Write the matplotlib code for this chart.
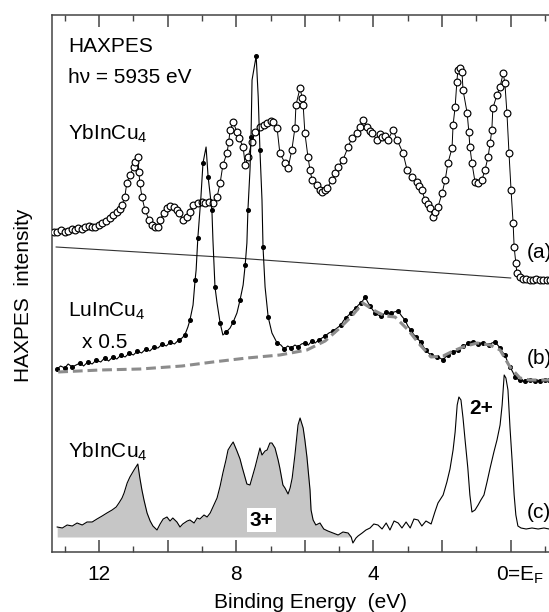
import numpy as np
import matplotlib
matplotlib.use("Agg")
import matplotlib.pyplot as plt

plt.rcParams["font.family"] = ["Liberation Sans", "DejaVu Sans"]
plt.rcParams["mathtext.default"] = "regular"

# ----------------------------------------------------------------------
# (a) YbInCu4 HAXPES spectrum (open circles)
E_a = [13.30, 13.22, 13.10, 13.00, 12.90, 12.80, 12.70, 12.60, 12.50, 12.41,
       12.30, 12.20, 12.12, 12.00, 11.91, 11.80, 11.68, 11.58, 11.48, 11.40,
       11.33, 11.25, 11.19, 11.10, 10.99, 10.96, 10.87, 10.84, 10.81, 10.75,
       10.66, 10.54, 10.46, 10.36, 10.28, 10.23, 10.11, 10.02, 9.92, 9.81,
       9.74, 9.67, 9.56, 9.45, 9.36, 9.26, 9.12, 9.00, 8.91, 8.80,
       8.68, 8.56, 8.47, 8.39, 8.27, 8.22, 8.18, 8.09, 7.98, 7.92,
       7.80, 7.74, 7.65, 7.55, 7.45, 7.31, 7.20, 7.10, 7.00, 6.93,
       6.81, 6.73, 6.58, 6.49, 6.38, 6.29, 6.26, 6.14, 6.08, 6.05,
       6.00, 5.91, 5.85, 5.79, 5.64, 5.57, 5.50, 5.42, 5.35, 5.21,
       5.12, 5.03, 4.89, 4.74, 4.63, 4.48, 4.40, 4.31, 4.19, 4.10,
       4.04, 3.90, 3.82, 3.75, 3.65, 3.58, 3.43, 3.31, 3.14, 3.02,
       2.88, 2.73, 2.66, 2.59, 2.50, 2.42, 2.35, 2.26, 2.20, 2.12,
       2.00, 1.91, 1.83, 1.71, 1.68, 1.62, 1.57, 1.54, 1.47, 1.42,
       1.39, 1.27, 1.22, 1.19, 1.13, 1.04, 0.95, 0.84, 0.75, 0.66,
       0.60, 0.55, 0.52, 0.40, 0.31, 0.22, 0.17, 0.11, 0.05, -0.01,
       -0.07, -0.10, -0.15, -0.18, -0.27, -0.35, -0.45, -0.55, -0.65, -0.75,
       -0.85, -0.95, -1.05, -1.15]
I_a = [320, 320, 322, 320, 321, 323, 322, 324, 323, 325,
       326, 325, 325, 327, 329, 331, 334, 337, 340, 343,
       347, 355, 369, 377, 385, 390, 395, 380, 369, 355,
       342, 332, 327, 325, 325, 332, 339, 344, 346, 345,
       342, 339, 332, 335, 340, 347, 349, 350, 349, 350,
       349, 355, 369, 387, 399, 410, 422, 430, 420, 414,
       405, 387, 395, 410, 420, 425, 427, 429, 431, 430,
       424, 399, 389, 384, 402, 424, 447, 464, 454, 447,
       419, 395, 382, 372, 367, 362, 360, 362, 364, 372,
       379, 385, 392, 405, 414, 419, 425, 432, 425, 421,
       419, 412, 418, 415, 416, 412, 422, 412, 399, 382,
       375, 370, 366, 362, 352, 348, 344, 335, 340, 345,
       359, 372, 389, 404, 427, 445, 470, 482, 484, 480,
       462, 439, 420, 405, 389, 370, 369, 372, 382, 395,
       409, 422, 444, 457, 465, 479, 469, 439, 399, 362,
       329, 305, 289, 279, 275, 273, 273, 272, 272, 273,
       272, 272, 272, 272]

# background line under (a)
E_abg = [13.25, 8.0, 4.0, 0.0]
I_abg = [305, 294, 284, 274]

# ----------------------------------------------------------------------
# (b) LuInCu4 x 0.5 (small dots) and its gray dashed curve
E_b = [13.22, 13.12, 13.00, 12.90, 12.78, 12.67, 12.55, 12.45, 12.33, 12.20,
       12.08, 11.95, 11.84, 11.72, 11.60, 11.48, 11.36, 11.24, 11.12, 11.00,
       10.88, 10.76, 10.64, 10.52, 10.40, 10.28, 10.16, 10.04, 9.92, 9.80,
       9.68, 9.58, 9.50, 9.41, 9.35, 9.26, 9.20, 9.17, 9.12, 9.03,
       8.97, 8.88, 8.82, 8.76, 8.71, 8.68, 8.62, 8.56, 8.47, 8.39,
       8.29, 8.18, 8.09, 7.98, 7.89, 7.80, 7.74, 7.69, 7.66, 7.60,
       7.57, 7.54, 7.42, 7.36, 7.31, 7.25, 7.22, 7.16, 7.07, 6.96,
       6.81, 6.70, 6.60, 6.50, 6.40, 6.29, 6.20, 6.10, 6.00, 5.90,
       5.80, 5.70, 5.60, 5.50, 5.41, 5.30, 5.18, 5.06, 4.95, 4.88,
       4.81, 4.72, 4.65, 4.58, 4.51, 4.44, 4.36, 4.30, 4.24, 4.17,
       4.10, 4.02, 3.95, 3.87, 3.78, 3.70, 3.63, 3.56, 3.49, 3.40,
       3.28, 3.18, 3.08, 3.00, 2.91, 2.84, 2.76, 2.68, 2.61, 2.54,
       2.47, 2.40, 2.32, 2.24, 2.15, 2.06, 1.97, 1.90, 1.83, 1.75,
       1.68, 1.61, 1.54, 1.46, 1.39, 1.31, 1.24, 1.17, 1.10, 1.03,
       0.95, 0.88, 0.81, 0.72, 0.63, 0.55, 0.46, 0.38, 0.31, 0.24,
       0.17, 0.10, 0.02, -0.06, -0.13, -0.20, -0.27, -0.35, -0.42, -0.50,
       -0.56, -0.64, -0.71, -0.78, -0.85, -0.92, -1.00, -1.06, -1.12]
I_b = [183, 186, 184, 188, 185, 187, 189, 186, 190, 188,
       192, 190, 194, 191, 195, 193, 197, 195, 199, 197,
       201, 199, 203, 201, 205, 204, 208, 206, 210, 208,
       212, 214, 217, 225, 232, 247, 272, 282, 314, 355,
       389, 405, 375, 357, 342, 312, 265, 249, 229, 217,
       220, 224, 230, 239, 252, 267, 287, 309, 342, 382,
       415, 472, 496, 455, 402, 352, 305, 265, 235, 219,
       209, 207, 203, 206, 204, 207, 205, 208, 209, 207,
       211, 209, 212, 214, 216, 219, 221, 224, 227, 231,
       234, 237, 239, 242, 244, 247, 249, 252, 255, 250,
       246, 242, 239, 237, 236, 238, 240, 238, 239, 240,
       241, 236, 232, 226, 222, 218, 215, 212, 210, 205,
       202, 199, 197, 196, 195, 194, 192, 195, 197, 199,
       200, 201, 202, 204, 206, 207, 209, 210, 210, 209,
       208, 209, 209, 208, 207, 209, 210, 207, 204, 200,
       197, 191, 185, 180, 175, 173, 172, 171, 171, 172,
       172, 171, 171, 172, 171, 172, 172, 171, 172]

E_bfit = [13.19, 11.97, 10.80, 9.58, 8.68, 7.69, 6.73, 5.94, 5.41, 4.95,
          4.63, 4.31, 3.95, 3.66, 3.37, 2.99, 2.64, 2.32, 1.97, 1.68,
          1.39, 0.98, 0.60, 0.31, 0.02, -0.27, -0.56, -1.12]
I_bfit = [180, 182, 183, 186, 190, 194, 197, 202, 211, 225,
          236, 249, 241, 236, 235, 222, 207, 195, 196, 201,
          205, 209, 207, 202, 185, 174, 172, 172]

# ----------------------------------------------------------------------
# (c) YbInCu4 after subtraction (3+ part shaded)
E_c = [13.22, 13.07, 12.93, 12.78, 12.64, 12.49, 12.35, 12.20, 12.06, 11.91,
       11.77, 11.62, 11.50, 11.42, 11.33, 11.27, 11.18, 11.10, 10.98, 10.87,
       10.81, 10.75, 10.69, 10.60, 10.51, 10.43, 10.31, 10.22, 10.13, 10.02,
       9.93, 9.85, 9.73, 9.64, 9.56, 9.43, 9.35, 9.23, 9.14, 9.06,
       8.94, 8.85, 8.76, 8.68, 8.56, 8.47, 8.39, 8.30, 8.24, 8.15,
       8.09, 8.04, 7.98, 7.89, 7.83, 7.74, 7.69, 7.60, 7.51, 7.45,
       7.36, 7.31, 7.25, 7.16, 7.10, 7.02, 6.96, 6.87, 6.78, 6.73,
       6.64, 6.58, 6.49, 6.43, 6.37, 6.29, 6.20, 6.14, 6.05, 6.00,
       5.94, 5.85, 5.82, 5.76, 5.68, 5.56, 5.45, 5.33, 5.18, 5.03,
       4.89, 4.74, 4.65, 4.60, 4.51, 4.45, 4.33, 4.22, 4.10, 3.99,
       3.87, 3.75, 3.63, 3.52, 3.40, 3.28, 3.17, 3.05, 2.93, 2.82,
       2.70, 2.59, 2.47, 2.32, 2.21, 2.12, 1.97, 1.86, 1.77, 1.68,
       1.62, 1.56, 1.51, 1.45, 1.39, 1.33, 1.25, 1.19, 1.13, 1.04,
       0.95, 0.87, 0.78, 0.69, 0.60, 0.49, 0.40, 0.31, 0.25, 0.19,
       0.14, 0.08, 0.02, -0.04, -0.10, -0.15, -0.21, -0.30, -0.45, -0.62,
       -0.80, -0.97, -1.12]
I_c = [25, 24, 27, 26, 29, 27, 30, 30, 33, 36,
       39, 42, 45, 49, 54, 59, 69, 75, 82, 88,
       74, 62, 52, 39, 31, 26, 22, 28, 33, 35,
       31, 34, 30, 25, 28, 31, 32, 29, 34, 33,
       37, 35, 39, 45, 54, 66, 79, 92, 102, 107,
       110, 106, 101, 93, 85, 74, 68, 67, 78, 85,
       97, 104, 97, 101, 102, 109, 109, 104, 92, 84,
       67, 64, 58, 64, 74, 97, 127, 134, 124, 112,
       95, 62, 42, 32, 27, 29, 23, 21, 19, 17,
       20, 19, 15, 9, 14, 16, 19, 22, 24, 28,
       27, 23, 29, 22, 31, 29, 24, 30, 24, 33,
       32, 26, 31, 28, 40, 49, 57, 70, 83, 102,
       120, 147, 155, 152, 134, 112, 84, 57, 40, 42,
       47, 52, 57, 70, 84, 100, 112, 127, 147, 177,
       174, 162, 124, 92, 57, 37, 26, 24, 23, 24,
       23, 24, 23]
C_BASE = 15        # baseline of the shaded 3+ area
C_EDGE = 4.64      # shaded area stops here

# ----------------------------------------------------------------------
# Figure
fig = plt.figure(figsize=(5.49, 6.12), dpi=100)
ax = fig.add_axes([51.7 / 549, 60 / 612, 500 / 549, 537 / 612])

E_c_arr = np.array(E_c)
ax.fill_between(E_c_arr, C_BASE, I_c, where=E_c_arr >= C_EDGE,
                color="#c6c6c6", lw=0, zorder=1)
ax.plot(E_c, I_c, color="k", lw=0.8, zorder=2)

ax.plot(E_abg, I_abg, color="#333333", lw=0.8, zorder=2)
ax.plot(E_a, I_a, "-", color="k", lw=0.7, marker="o", ms=4.9,
        mfc="white", mec="k", mew=0.85, zorder=3)

ax.plot(E_b, I_b, "-", color="k", lw=0.8, marker="o", ms=2.6,
        markevery=2, zorder=4)
ax.plot(E_bfit, I_bfit, color="#8c8c8c", lw=2.2, dashes=(3.2, 1.6), zorder=5)

# Labels inside the plot
fs = 15
ax.text(12.90, 500, "HAXPES", fontsize=fs)
ax.text(12.90, 469, "h\u03bd = 5935 eV", fontsize=fs)
ax.text(12.90, 412, "YbInCu$_4$", fontsize=fs)
ax.text(12.90, 235, "LuInCu$_4$", fontsize=fs)
ax.text(12.49, 204, "x 0.5", fontsize=fs)
ax.text(12.90, 94, "YbInCu$_4$", fontsize=fs)
ax.text(-0.48, 299, "(a)", fontsize=fs, va="center")
ax.text(-0.48, 193, "(b)", fontsize=fs, va="center")
ax.text(-0.48, 39, "(c)", fontsize=fs, va="center")
ax.text(0.86, 144, "2+", fontsize=fs, fontweight="bold", ha="center", va="center")
ax.text(7.27, 32, "3+", fontsize=fs, fontweight="bold", ha="center", va="center",
        bbox=dict(facecolor="white", edgecolor="none", pad=2))

# Axes styling
ax.set_xlim(13.38, -1.195)
ax.set_ylim(0, 537)
ax.set_xticks([12, 10, 8, 6, 4, 2, 0])
ax.set_xticklabels(["12", "", "8", "", "4", "", ""])
ax.set_xticks(np.arange(-1, 14, 1), minor=True)
ax.tick_params(axis="x", which="major", direction="in", length=8.5, width=1.1,
               top=True, labelsize=fs, pad=9, color="#444444")
ax.tick_params(axis="x", which="minor", direction="in", length=4.5, width=1.0,
               top=True, color="#444444")
ax.tick_params(axis="y", left=False, labelleft=False)
ax.annotate("0=E$_F$", xy=(0, 0), xycoords=("data", "axes fraction"),
            xytext=(7, -9), textcoords="offset points", ha="center", va="top",
            fontsize=fs)
for s in ax.spines.values():
    s.set_color("#444444")
    s.set_linewidth(1.1)

ax.set_xlabel("Binding Energy  (eV)", fontsize=fs)
ax.xaxis.set_label_coords(0.5186, -0.076)
ax.set_ylabel("HAXPES  intensity", fontsize=fs)
ax.yaxis.set_label_coords(-0.038, 0.4786)

fig.savefig("out.png", dpi=100)
